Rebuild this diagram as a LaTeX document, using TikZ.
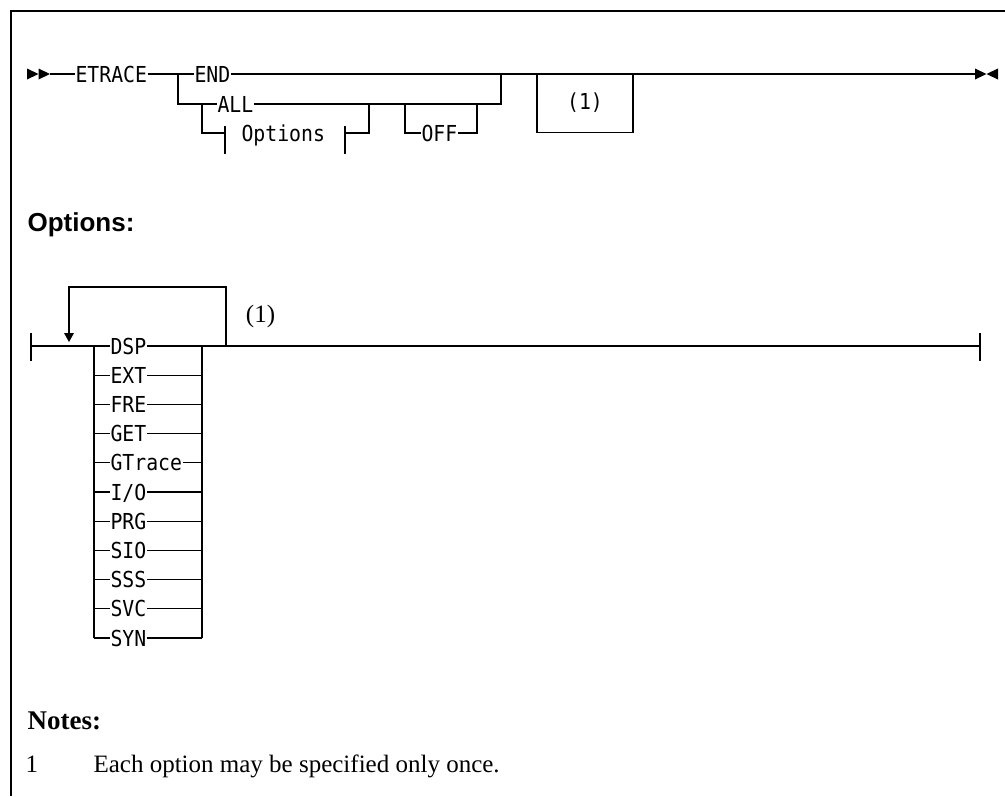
\documentclass[tikz,border=0pt]{standalone}
\usepackage{fontspec}
\setmainfont{Liberation Serif}
\newfontfamily\monof[FakeStretch=0.9]{DejaVu Sans Mono}
\newfontfamily\headf{Liberation Sans}
\begin{document}
\begin{tikzpicture}[x=1pt,y=-1pt,line width=1.1pt,
  mono/.style={font=\monof\fontsize{22}{26}\selectfont,inner sep=0pt,text height=16pt,text depth=0pt,anchor=west},
  monoc/.style={font=\monof\fontsize{22}{26}\selectfont,inner sep=0pt,text height=16pt,text depth=0pt,anchor=center},
  heavy/.style={line width=1.8pt}]
\useasboundingbox (0,0) rectangle (1005,796);
% frame
\draw (11,796) -- (11,11) -- (1005,11);

% ===== main diagram =====
\fill (27,68.5) -- (38.5,74) -- (27,79.5) -- cycle;
\fill (38.5,68.5) -- (50,74) -- (38.5,79.5) -- cycle;
\coordinate (s) at (50,74);
\node[mono] (etrace) at (75,74) {ETRACE};
\coordinate (j1) at (178,74);
\coordinate (j1b) at (178,104);
\node[mono] (end) at (194,74) {END};
\coordinate (j2) at (501,74);
\coordinate (j2b) at (501,104);
\coordinate (e) at (975,74);
\draw (s) -- (etrace.west);
\draw (etrace.east) -- (j1) -- (end.west);
\draw (end.east) -- (e);
% ALL
\node[mono] (all) at (217,104) {ALL};
\draw (j1) -- (j1b) -- (all.west);
\draw (all.east) -- (j2b) -- (j2);
% Options fragment
\coordinate (oa) at (202,104);
\coordinate (ob) at (202,133);
\coordinate (ot1) at (225,133);
\coordinate (ot2) at (345,133);
\coordinate (oc) at (369,133);
\coordinate (od) at (369,104);
\node[mono] (optref) at (241,133) {Options};
\draw (oa) -- (ob) -- (ot1);
\draw (225,126) -- (225,154);
\draw (345,126) -- (345,154);
\draw (ot2) -- (oc) -- (od);
% OFF
\coordinate (fa) at (405,104);
\coordinate (fb) at (405,133);
\coordinate (fc) at (477,133);
\coordinate (fd) at (477,104);
\node[mono] (off) at (421,133) {OFF};
\draw (fa) -- (fb) -- (off.west);
\draw (off.east) -- (fc) -- (fd);
% note box
\coordinate (b1) at (537,74);
\coordinate (b2) at (633,74);
\draw (b1) -- (537,132.5) -- (633,132.5) -- (b2);
\node[monoc] (n1) at (585,101) {(1)};
\draw[heavy] (638,74) -- (662,74);
% end arrows
\fill (975,68.5) -- (986.5,74) -- (975,79.5) -- cycle;
\fill (998,68.5) -- (986.5,74) -- (998,79.5) -- cycle;

% ===== Options heading =====
\node[font=\headf\bfseries\fontsize{26}{30}\selectfont,anchor=base west,inner sep=0pt] (ophead) at (27,231) {Options:};

% ===== Options diagram =====
\coordinate (ol) at (31,346);
\coordinate (or) at (980,346);
\draw (31,333) -- (31,361);
\draw (980,333) -- (980,361);
\coordinate (sl) at (94,346);
\coordinate (sr) at (202,346);
\draw (ol) -- (sl);
\draw (sr) -- (or);
\draw[heavy] (39,346) -- (45,346);
\draw[heavy] (279,346) -- (303,346);
% repeat loop
\coordinate (lp) at (69,287);
\coordinate (lq) at (226,287);
\coordinate (lr) at (226,346);
\draw (69,334) -- (lp) -- (lq) -- (lr);
\fill (64,333) -- (74,333) -- (69,342) -- cycle;
\node[font=\fontsize{25}{28}\selectfont,inner sep=0pt,anchor=center] (n1b) at (260.5,316) {(1)};
% stack
\foreach \t [count=\i from 0] in {DSP,EXT,FRE,GET,GTrace,I/O,PRG,SIO,SSS,SVC,SYN}{
  \pgfmathsetmacro{\yy}{346+\i*29.2}
  \node[mono] (opt\i) at (110,\yy) {\t};
  \draw (94,\yy) -- (opt\i.west);
  \draw (opt\i.east) -- (202,\yy);
}
\draw (sl) -- (94,638);
\draw (sr) -- (202,638);

% ===== Notes =====
\node[font=\bfseries\fontsize{27}{30}\selectfont,anchor=base west,inner sep=0pt] (notes) at (27,729) {Notes:};
\node[font=\fontsize{25}{28}\selectfont,anchor=base west,inner sep=0pt] (num) at (25,772) {1};
\node[font=\fontsize{25}{28}\selectfont,anchor=base west,inner sep=0pt] (notetext) at (93,772) {Each option may be specified only once.};
\end{tikzpicture}
\end{document}
